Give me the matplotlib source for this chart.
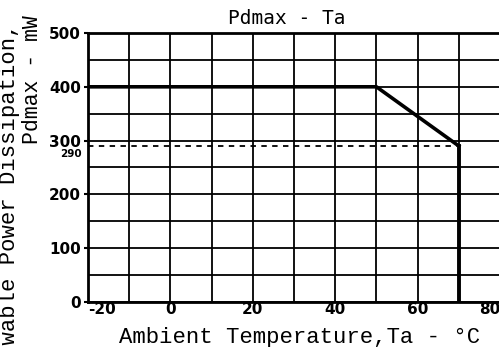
import numpy as np
import matplotlib
matplotlib.use('Agg')
import matplotlib.pyplot as plt

# derating curve
ta = [-20, 50, 70]
pd = [400, 400, 290]
pd_limit = 290
ta_end = 70

xticks = [-20, 0, 20, 40, 60, 80]
yticks = [0, 100, 200, 300, 400, 500]

fig = plt.figure(figsize=(4.99, 3.47), dpi=100)
ax = fig.add_axes([88/499, 45/347, 412/499, 269/347])

ax.set_xlim(-20, 80)
ax.set_ylim(0, 500)

# grid every 10 degC / 50 mW
ax.set_xticks(np.arange(-20, 81, 10), minor=True)
ax.set_yticks(np.arange(0, 501, 50), minor=True)
ax.grid(which='both', color='black', linewidth=1.3)
ax.tick_params(which='minor', length=0)

ax.set_xticks(xticks)
ax.set_xticklabels([str(v) for v in xticks], fontsize=11, fontweight='bold')
ax.set_yticks(yticks)
ax.set_yticklabels([str(v) for v in yticks], fontsize=11, fontweight='bold')
ax.tick_params(axis='x', length=0, pad=0)
ax.tick_params(axis='y', length=3, width=1.5, pad=2)
lbls = ax.get_xticklabels()
lbls[0].set_horizontalalignment('left')
lbls[-1].set_horizontalalignment('right')
ax.text(-21.4, pd_limit - 5, '290', fontsize=7.5, fontweight='bold', ha='right', va='top')

for s in ax.spines.values():
    s.set_linewidth(2)

# curves
ax.plot(ta, pd, color='black', linewidth=2.6)
ax.plot([-20, ta_end], [pd_limit, pd_limit], color='black', linewidth=1.3, linestyle=(0, (3, 3)))
ax.plot([ta_end, ta_end], [0, pd_limit], color='black', linewidth=2.8)

fig.text(287/499, 1 - 19/347, 'Pdmax - Ta', family='DejaVu Sans Mono', fontsize=14,
         ha='center', va='center')
fig.text(300/499, 1 - 337/347, 'Ambient Temperature,Ta - \u00b0C', family='Liberation Mono',
         fontsize=16, ha='center', va='center')
fig.text(10/499, 1 - 211/347, 'Allowable Power Dissipation,', family='Liberation Mono', fontsize=16,
         rotation=90, ha='center', va='center')
fig.text(33/499, 1 - 80/347, 'Pdmax - mW', family='Liberation Mono', fontsize=15.5,
         rotation=90, ha='center', va='center')

fig.savefig('out.png', dpi=100)
